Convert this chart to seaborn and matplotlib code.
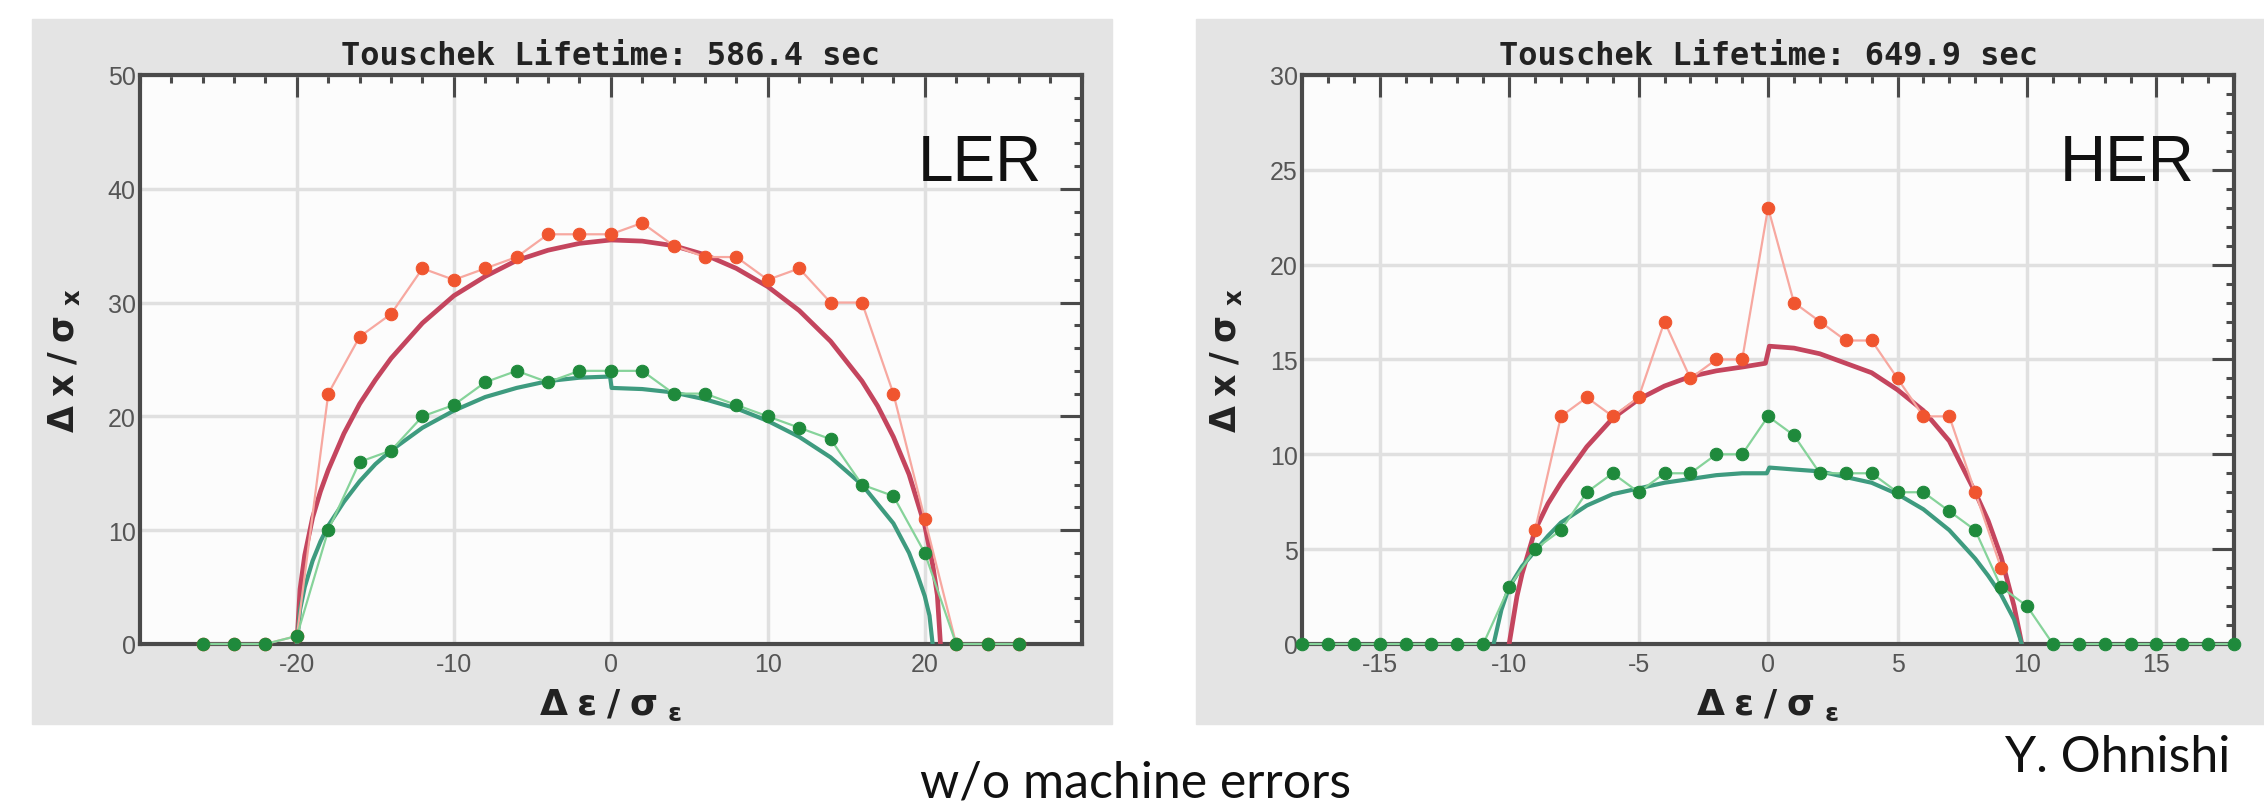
import matplotlib
matplotlib.use("Agg")
import matplotlib.pyplot as plt
import seaborn as sns
from matplotlib.patches import Rectangle
from matplotlib.ticker import MultipleLocator

# ---- LER : simulated points (step 2 in d_eps/sigma_eps) ----
ler_x = [-26, -24, -22, -20, -18, -16, -14, -12, -10, -8, -6, -4, -2, 0,
         2, 4, 6, 8, 10, 12, 14, 16, 18, 20, 22, 24, 26]
ler_red = [0, 0, 0, 0.7, 22, 27, 29, 33, 32, 33, 34, 36, 36, 36,
           37, 35, 34, 34, 32, 33, 30, 30, 22, 11, 0, 0, 0]
ler_green = [0, 0, 0, 0.7, 10, 16, 17, 20, 21, 23, 24, 23, 24, 24,
             24, 22, 22, 21, 20, 19, 18, 14, 13, 8, 0, 0, 0]

# LER : smooth (analytic) apertures
ler_red_fit_x = [-20, -19.8, -19.5, -19, -18.5, -18, -17, -16, -15, -14, -12, -10, -8, -6, -4, -2, 0,
                 2, 4, 6, 8, 10, 12, 14, 16, 17, 18, 19, 20, 20.5, 20.8, 21]
ler_red_fit_y = [0, 4.8, 7.8, 11.1, 13.4, 15.3, 18.5, 21.1, 23.2, 25.1, 28.2, 30.6, 32.3, 33.7, 34.6, 35.2, 35.5,
                 35.4, 35.0, 34.2, 33.0, 31.4, 29.3, 26.6, 23.1, 20.9, 18.2, 14.9, 10.4, 7.0, 4.3, 0]
ler_green_fit_x = [-20, -19.8, -19.5, -19, -18.5, -18, -17, -16, -15, -14, -12, -10, -8, -6, -4, -2, -0.05,
                   0.05, 2, 4, 6, 8, 10, 12, 14, 16, 18, 19, 19.5, 20, 20.3, 20.5]
ler_green_fit_y = [0, 3, 5, 7.3, 9.0, 10.4, 12.5, 14.3, 15.8, 17.0, 19.0, 20.5, 21.7, 22.5, 23.1, 23.4, 23.5,
                   22.5, 22.4, 22.1, 21.5, 20.7, 19.6, 18.2, 16.4, 14.0, 10.6, 8.0, 6.2, 4.2, 2.5, 0]

# ---- HER : simulated points (step 1) ----
her_x = list(range(-18, 19))
her_green = [0, 0, 0, 0, 0, 0, 0, 0, 3, 5, 6, 8, 9, 8, 9, 9, 10, 10, 12,
             11, 9, 9, 9, 8, 8, 7, 6, 3, 2, 0, 0, 0, 0, 0, 0, 0, 0]
her_red_x = list(range(-9, 10))
her_red = [6, 12, 13, 12, 13, 17, 14, 15, 15, 23,
           18, 17, 16, 16, 14, 12, 12, 8, 4]

her_red_fit_x = [-10, -9.7, -9.5, -9, -8.5, -8, -7, -6, -5, -4, -3, -2, -1, -0.1,
                 0.05, 1, 2, 3, 4, 5, 6, 7, 8, 8.5, 9, 9.5, 9.8]
her_red_fit_y = [0, 2.5, 3.7, 6.0, 7.4, 8.5, 10.4, 11.9, 12.9, 13.6, 14.1, 14.4, 14.6, 14.8,
                 15.7, 15.6, 15.3, 14.8, 14.3, 13.4, 12.3, 10.7, 8.0, 6.5, 4.6, 2.0, 0]
her_green_fit_x = [-10.6, -10.3, -10, -9.5, -9, -8.5, -8, -7, -6, -5, -4, -3, -2, -1, -0.05,
                   0.05, 1, 2, 3, 4, 5, 6, 7, 8, 8.5, 9, 9.5, 9.8]
her_green_fit_y = [0, 1.8, 3.0, 4.1, 4.9, 5.7, 6.4, 7.3, 7.9, 8.2, 8.5, 8.7, 8.9, 9.0, 9.0,
                   9.3, 9.2, 9.1, 8.8, 8.5, 7.9, 7.1, 6.0, 4.5, 3.6, 2.6, 1.3, 0]

titles = ["Touschek Lifetime: 586.4 sec", "Touschek Lifetime: 649.9 sec"]
ring_names = ["LER", "HER"]

# colours
red_pt, red_ln, red_fit = "#f0552f", "#f7a8a0", "#c4455e"
grn_pt, grn_ln, grn_fit = "#1f8a3c", "#86d39a", "#3e9b7f"
spine_c = "#4a4a4a"
tick_font = ["Liberation Sans Narrow", "Liberation Sans", "DejaVu Sans"]

sns.set_style("white")
plt.rcParams["axes.unicode_minus"] = False
fig = plt.figure(figsize=(22.64, 8.03), dpi=100)

# grey panels behind each plot
fig.add_artist(Rectangle((0.0141, 0.097), 0.477, 0.878, transform=fig.transFigure,
                         color="#e4e4e4", zorder=0))
fig.add_artist(Rectangle((0.5283, 0.097), 0.4717, 0.878, transform=fig.transFigure,
                         color="#e4e4e4", zorder=0))

ax1 = fig.add_axes([0.0618, 0.1968, 0.416, 0.7086])
ax2 = fig.add_axes([0.5751, 0.1968, 0.4117, 0.7086])


def draw(ax, fits, raws):
    for fx, fy, c, lw in fits:
        sns.lineplot(x=fx, y=fy, ax=ax, color=c, lw=lw, sort=False, estimator=None, zorder=3)
    for x, y, lc, pc in raws:
        sns.lineplot(x=x, y=y, ax=ax, color=lc, lw=1.6, sort=False, estimator=None,
                     marker="o", markersize=9, markerfacecolor=pc, markeredgecolor=pc,
                     clip_on=False, zorder=4)


draw(ax1,
     [(ler_red_fit_x, ler_red_fit_y, red_fit, 3.4), (ler_green_fit_x, ler_green_fit_y, grn_fit, 3.0)],
     [(ler_x, ler_red, red_ln, red_pt), (ler_x, ler_green, grn_ln, grn_pt)])
draw(ax2,
     [(her_red_fit_x, her_red_fit_y, red_fit, 3.4), (her_green_fit_x, her_green_fit_y, grn_fit, 3.0)],
     [(her_red_x, her_red, red_ln, red_pt), (her_x, her_green, grn_ln, grn_pt)])

ax1.set_xlim(-30, 30)
ax1.set_ylim(0, 50)
ax1.set_xticks([-20, -10, 0, 10, 20])
ax1.set_yticks([0, 10, 20, 30, 40, 50])
ax1.xaxis.set_minor_locator(MultipleLocator(2))
ax1.yaxis.set_minor_locator(MultipleLocator(2))

ax2.set_xlim(-18, 18)
ax2.set_ylim(0, 30)
ax2.set_xticks([-15, -10, -5, 0, 5, 10, 15])
ax2.set_yticks([0, 5, 10, 15, 20, 25, 30])
ax2.xaxis.set_minor_locator(MultipleLocator(1))
ax2.yaxis.set_minor_locator(MultipleLocator(1))

for ax, title, name in zip([ax1, ax2], titles, ring_names):
    ax.set_facecolor("#fcfcfc")
    ax.grid(True, which="major", color="#e0e0e0", lw=2.5)
    ax.set_axisbelow(True)
    for s in ax.spines.values():
        s.set_visible(True)
        s.set_color(spine_c)
        s.set_linewidth(3)
    ax.tick_params(which="both", direction="in", top=True, right=True,
                   color=spine_c, width=2.2, labelsize=18, labelcolor="#555555",
                   labelfontfamily=tick_font)
    ax.tick_params(which="major", length=16)
    ax.tick_params(which="minor", length=6)
    ax.tick_params(axis="y", pad=3)
    ax.tick_params(axis="x", pad=6)
    ax.set_title(title, fontfamily="DejaVu Sans Mono", fontweight="bold",
                 fontsize=23, color="#222222", pad=8)
    ax.set_xlabel(r"$\mathbf{\Delta\;\varepsilon\;/\;\sigma\;_{\varepsilon}}$",
                  fontsize=26, color="#222222")
    ax.set_ylabel(r"$\mathbf{\Delta\;x\;/\;\sigma\;_{x}}$", fontsize=25, color="#222222")
    ax.xaxis.set_label_coords(0.5, -0.075)
    ax.yaxis.set_label_coords(-0.062, 0.5)
    ax.text(0.958, 0.898, name, transform=ax.transAxes, ha="right", va="top",
            fontsize=46, fontfamily="Liberation Sans", color="#111111")

fig.text(0.5014, 0.007, "w/o machine errors", ha="center", va="baseline",
         fontsize=36, fontfamily="Lato", color="#111111")
fig.text(0.985, 0.0386, "Y. Ohnishi", ha="right", va="baseline",
         fontsize=36, fontfamily="Lato", color="#111111")

fig.savefig("out.png", dpi=100)
